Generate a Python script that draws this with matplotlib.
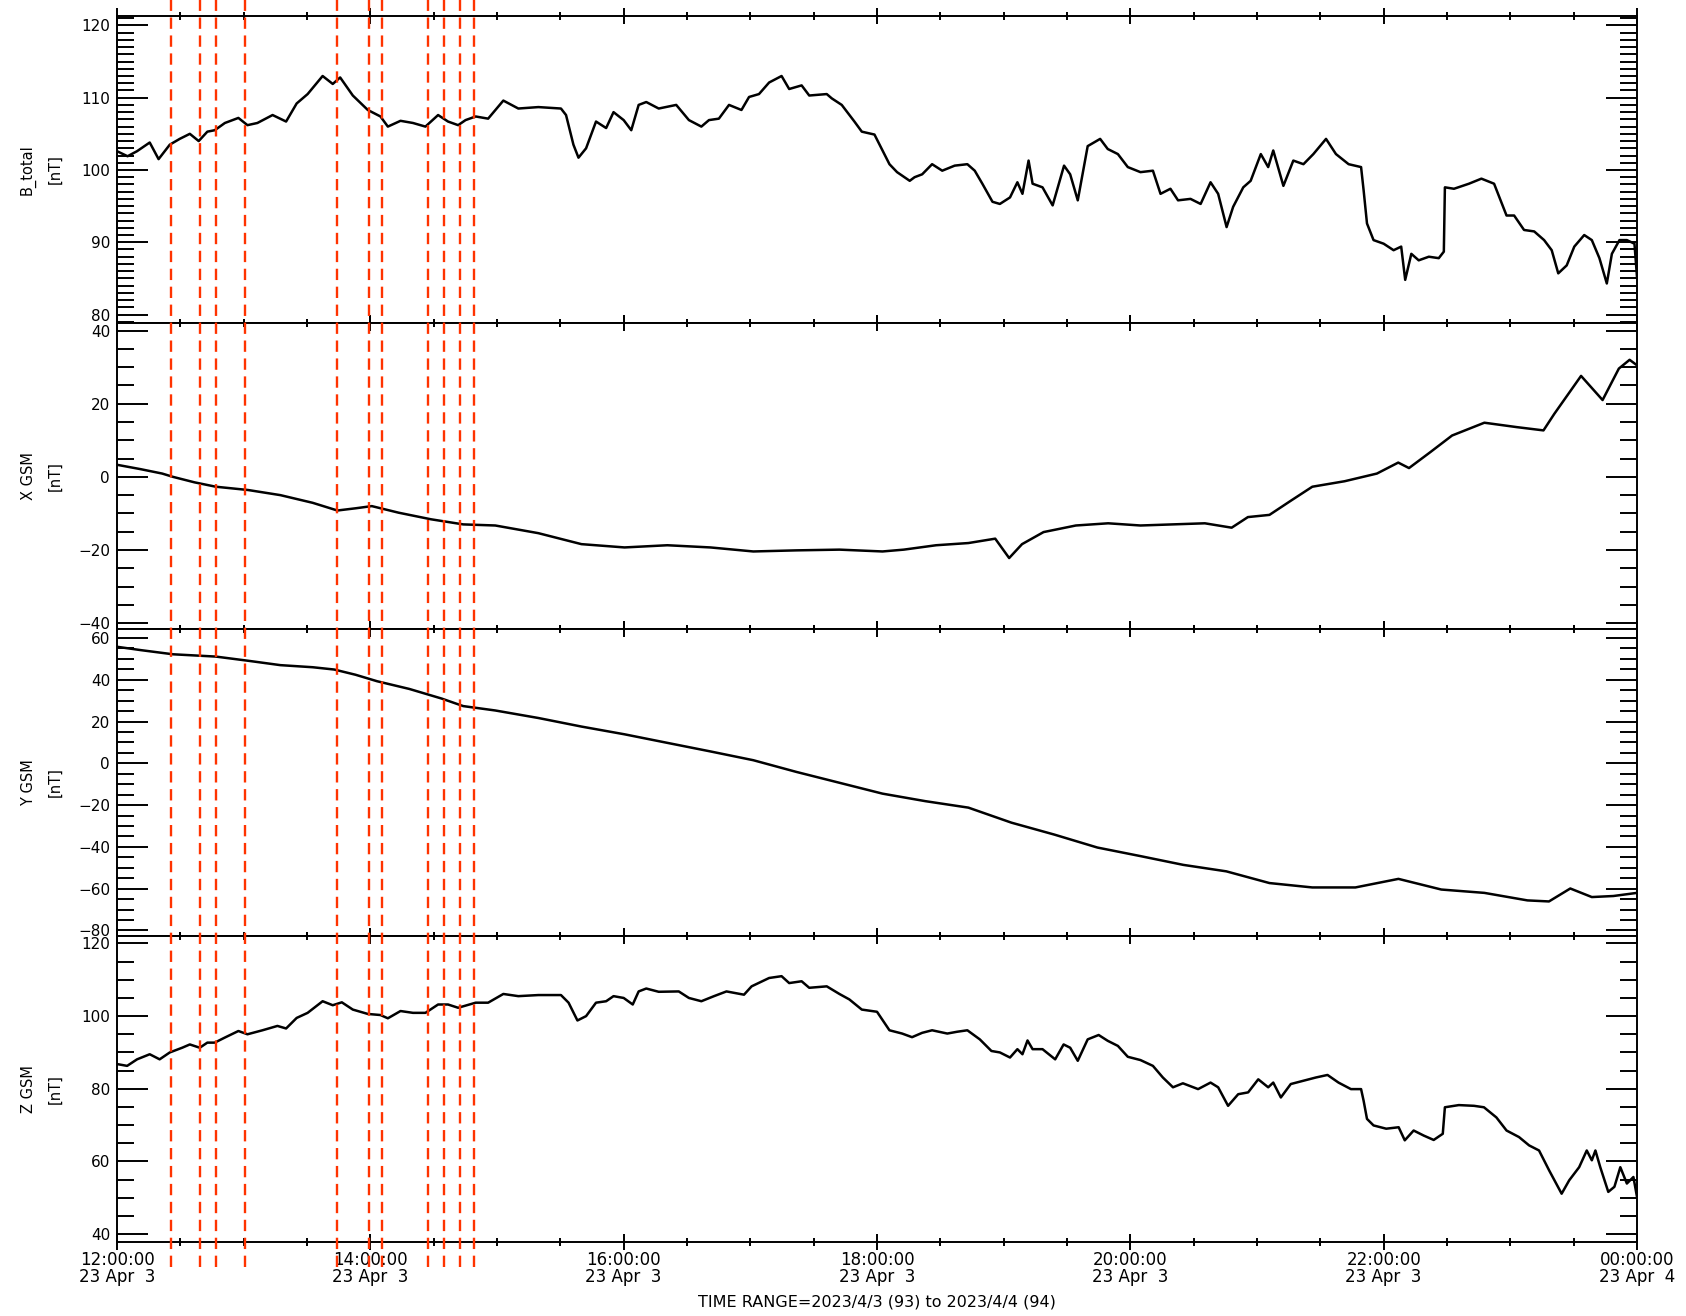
import matplotlib
matplotlib.use('Agg')
import numpy as np
import matplotlib.pyplot as plt
from matplotlib.ticker import MultipleLocator, FuncFormatter

# times are minutes after 2023-04-03 12:00:00 UT, values in nT
bt_min = [0, 5, 9.5, 15.5, 19.7, 25.0, 29.7, 34.5, 38.7, 42.8, 46.3, 51.1, 57.5, 61.8, 66.5, 73.7,
          80.1, 85.1, 90.3, 97.4, 102.2, 105.7, 111.7, 118.8, 124.8, 128.3, 134.3, 140.2, 146.1,
          152.1, 156.8, 161.6, 165.1, 169.9, 175.8, 183.0, 190.1, 199.6, 210.3, 212.7, 216.2,
          218.6, 222.2, 226.9, 231.7, 235.2, 240.0, 243.6, 247.1, 250.7, 256.6, 264.9, 270.9,
          276.8, 280.4, 285.1, 289.9, 295.8, 299.4, 304.1, 308.9, 314.8, 318.4, 324.3, 327.9,
          336.2, 338.6, 343.3, 349.3, 352.8, 358.8, 365.9, 369.5, 375.5, 377.8, 381.4, 386.1,
          390.9, 396.8, 402.8, 406.3, 409.9, 414.7, 418.2, 423.0, 426.5, 428.9, 431.8, 433.7,
          438.4, 443.2, 448.6, 451.5, 455.1, 459.8, 465.7, 469.3, 474.1, 478.8, 484.8, 490.7,
          494.3, 499.0, 502.6, 508.5, 513.3, 518.0, 521.6, 525.6, 528.7, 533.5, 537.0, 541.8,
          545.3, 547.7, 552.5, 557.2, 562.0, 566.7, 572.7, 577.4, 583.4, 589.3, 590.5, 592.1,
          595.2, 600.0, 604.7, 608.3, 610.2, 613.1, 616.6, 621.4, 626.1, 628.5, 629.0, 633.3,
          640.4, 646.3, 652.3, 658.2, 661.8, 666.5, 671.3, 676.0, 679.6, 682.7, 686.7, 690.3,
          695.0, 698.6, 702.2, 705.7, 708.1, 711.7, 715.2, 718.8, 720]
bt_val = [102.6, 101.9, 102.6, 103.8, 101.5, 103.5, 104.3, 105.0, 104.0, 105.3, 105.5, 106.5, 107.2,
          106.2, 106.5, 107.6, 106.7, 109.2, 110.5, 113.0, 111.9, 112.8, 110.3, 108.3, 107.4, 106.0,
          106.8, 106.5, 106.0, 107.6, 106.7, 106.2, 106.9, 107.4, 107.1, 109.6, 108.5, 108.7, 108.5,
          107.6, 103.5, 101.7, 103.0, 106.7, 105.8, 108.0, 106.9, 105.5, 109.0, 109.4, 108.5, 109.0,
          106.9, 106.0, 106.9, 107.1, 109.0, 108.3, 110.1, 110.5, 112.1, 113.0, 111.2, 111.7, 110.3,
          110.5, 109.9, 109.0, 106.7, 105.3, 104.9, 100.8, 99.7, 98.5, 99.0, 99.4, 100.8, 99.9,
          100.6, 100.8, 99.9, 98.1, 95.6, 95.3, 96.2, 98.3, 96.7, 101.3, 98.1, 97.6, 95.1, 100.6,
          99.4, 95.8, 103.3, 104.3, 102.9, 102.2, 100.4, 99.7, 99.9, 96.7, 97.4, 95.8, 96.0, 95.3,
          98.3, 96.7, 92.1, 94.9, 97.6, 98.5, 102.2, 100.4, 102.7, 97.8, 101.3, 100.8, 102.2,
          104.3, 102.2, 100.8, 100.4, 97.2, 92.6, 90.3, 89.8, 88.9, 89.4, 84.8, 88.4, 87.5, 88.0,
          87.8, 88.7, 97.6, 97.4, 98.1, 98.8, 98.1, 93.7, 93.7, 91.7, 91.5, 90.3, 88.9, 85.7,
          86.8, 89.4, 91.0, 90.3, 87.8, 84.3, 88.4, 90.3, 90.3, 89.8, 85.2]

bx_min = [0, 11.2, 21.4, 26.5, 36.7, 46.8, 62.1, 77.4, 92.7, 104.4, 113.0, 120.7, 133.4, 148.7,
          164.0, 179.2, 199.6, 220.0, 240.4, 260.7, 281.1, 301.4, 321.8, 342.2, 362.6, 372.7,
          388.0, 403.3, 416.0, 422.6, 428.7, 438.9, 454.2, 469.5, 484.8, 500.0, 515.3, 528.0,
          535.7, 545.9, 556.1, 566.2, 581.5, 596.8, 606.9, 612.0, 622.2, 632.4, 647.7, 663.0,
          675.7, 680.8, 693.5, 703.7, 711.4, 716.5, 720]
bx_val = [3.3, 2.1, 0.9, 0.0, -1.5, -2.7, -3.6, -5.0, -7.1, -9.2, -8.6, -8.0, -9.8, -11.6, -13.0,
          -13.3, -15.4, -18.4, -19.3, -18.7, -19.3, -20.4, -20.1, -19.9, -20.4, -19.9, -18.7, -18.1,
          -16.9, -22.2, -18.4, -15.1, -13.3, -12.7, -13.3, -13.0, -12.7, -13.9, -11.0, -10.4, -6.5,
          -2.7, -1.2, 0.9, 3.9, 2.4, 6.8, 11.3, 14.8, 13.6, 12.7, 17.2, 27.6, 21.0, 29.6, 32.0, 30.5]

by_min = [0, 11.2, 26.5, 46.8, 62.1, 77.4, 92.7, 102.9, 113.0, 123.2, 138.5, 153.8, 164.0, 179.2,
          199.6, 220.0, 240.4, 260.7, 281.1, 301.4, 321.8, 342.2, 362.6, 382.9, 403.3, 423.7,
          444.0, 464.4, 484.8, 505.1, 525.5, 545.9, 566.2, 586.6, 607.0, 627.3, 647.7, 668.1,
          678.3, 688.4, 698.6, 708.8, 720]
by_val = [55.8, 54.2, 52.2, 51.1, 49.1, 47.0, 46.0, 44.9, 42.4, 39.3, 35.6, 31.0, 27.4, 25.3, 21.7,
          17.6, 13.9, 9.8, 5.7, 1.5, -4.1, -9.3, -14.5, -18.1, -21.2, -28.4, -34.1, -40.3, -44.4,
          -48.6, -51.7, -57.3, -59.4, -59.4, -55.3, -60.4, -62.0, -65.6, -66.1, -59.9, -64.0,
          -63.5, -62.0]

bz_min = [0, 4.8, 9.5, 15.5, 20.2, 25.0, 30.9, 34.5, 39.2, 42.8, 46.3, 51.1, 57.5, 61.8, 68.9, 76.0,
          80.1, 85.1, 90.3, 97.4, 102.2, 106.5, 111.7, 118.8, 124.8, 128.3, 134.3, 140.2, 146.1,
          152.1, 156.8, 161.6, 169.9, 175.8, 183.0, 190.1, 199.6, 210.3, 213.9, 218.1, 222.2,
          226.9, 231.7, 235.2, 240.0, 244.3, 247.1, 250.7, 256.6, 266.1, 270.9, 276.8, 282.8,
          288.7, 297.0, 300.6, 308.9, 314.8, 318.4, 324.3, 327.9, 336.2, 342.2, 346.9, 352.8,
          360.0, 365.9, 371.9, 376.6, 381.4, 386.1, 393.3, 398.0, 402.8, 408.7, 414.2, 418.2,
          423.0, 426.5, 428.9, 431.3, 433.7, 438.4, 444.4, 448.4, 451.5, 455.1, 459.8, 465.0,
          469.3, 474.1, 478.8, 484.8, 490.7, 495.4, 500.2, 504.9, 512.1, 518.0, 521.6, 526.3,
          531.1, 535.8, 540.6, 545.3, 547.7, 551.3, 556.0, 562.0, 567.9, 573.4, 578.6, 584.5,
          589.3, 590.5, 592.1, 595.2, 601.2, 607.1, 610.0, 614.2, 619.0, 623.7, 628.0, 629.0,
          635.6, 642.8, 647.5, 653.4, 658.2, 664.1, 668.9, 673.6, 678.4, 684.3, 687.9, 692.6,
          696.2, 698.6, 700.3, 702.6, 706.4, 709.3, 712.1, 715.2, 718.3, 720]
bz_val = [86.8, 86.3, 88.1, 89.5, 88.1, 90.0, 91.3, 92.2, 91.3, 92.7, 92.7, 94.1, 95.9, 95.0, 96.1,
          97.3, 96.6, 99.5, 100.9, 104.1, 103.0, 103.8, 101.8, 100.6, 100.3, 99.4, 101.4, 100.9,
          100.9, 103.2, 103.2, 102.3, 103.7, 103.7, 106.1, 105.5, 105.8, 105.8, 103.7, 98.8, 100.0,
          103.7, 104.1, 105.5, 105.0, 103.2, 106.8, 107.6, 106.7, 106.8, 105.0, 104.1, 105.5,
          106.8, 105.9, 108.2, 110.5, 111.0, 109.1, 109.6, 107.8, 108.2, 106.1, 104.6, 101.8,
          101.2, 96.1, 95.2, 94.2, 95.4, 96.1, 95.2, 95.7, 96.1, 93.6, 90.4, 90.0, 88.6, 90.9,
          89.5, 93.3, 90.9, 90.9, 88.1, 92.2, 91.3, 87.7, 93.6, 94.8, 93.2, 91.8, 88.8, 87.9,
          86.3, 83.1, 80.4, 81.5, 79.9, 81.7, 80.4, 75.3, 78.5, 79.0, 82.6, 80.4, 81.7, 77.6,
          81.3, 82.2, 83.1, 83.8, 81.7, 79.9, 79.9, 76.7, 71.7, 69.9, 69.0, 69.4, 65.8, 68.5,
          67.1, 65.9, 67.6, 74.9, 75.5, 75.3, 74.9, 72.1, 68.5, 66.7, 64.4, 63.0, 57.5, 51.1,
          54.8, 58.4, 63.0, 60.3, 63.0, 58.4, 51.6, 53.0, 58.4, 53.9, 55.7, 50.2]

# time bars (minutes after 12:00)
bar_min = [25.4, 39.4, 47.0, 60.8, 104.1, 119.2, 125.6, 147.1, 154.7, 162.5, 168.9]

panels = [
    (bt_min, bt_val, 'B_total\n[nT]', (78.9, 121.3), 10, 1),
    (bx_min, bx_val, 'X GSM\n[nT]', (-41.6, 42.2), 20, 5),
    (by_min, by_val, 'Y GSM\n[nT]', (-82.4, 64.3), 20, 5),
    (bz_min, bz_val, 'Z GSM\n[nT]', (37.8, 122.2), 20, 5),
]

W, H = 1686, 1316
fig = plt.figure(figsize=(W / 100, H / 100), dpi=100)
left, right = 117, 1637
tops = [16, 322.5, 629, 935.5]
ph = 306.5


def tfmt(x, pos):
    h = int(round(x))
    day = 3 if h < 24 else 4
    return f"{h % 24:02d}:00:00\n23 Apr  {day}"


axes = []
for i, (tm, val, lab, ylim, maj, mnr) in enumerate(panels):
    ax = fig.add_axes([left / W, 1 - (tops[i] + ph) / H, (right - left) / W, ph / H])
    ax.plot(12 + np.array(tm) / 60.0, val, color='black', lw=1.8)
    ax.set_xlim(12, 24)
    ax.set_ylim(*ylim)
    ax.xaxis.set_major_locator(MultipleLocator(2))
    ax.xaxis.set_minor_locator(MultipleLocator(0.5))
    ax.yaxis.set_major_locator(MultipleLocator(maj))
    ax.yaxis.set_minor_locator(MultipleLocator(mnr))
    for s in ax.spines.values():
        s.set_linewidth(1.4)
    ax.tick_params(axis='y', which='both', direction='in', left=True, right=True,
                   labelsize=11, pad=5)
    ax.tick_params(axis='y', which='major', length=22, width=1.4)
    ax.tick_params(axis='y', which='minor', length=12, width=1.4)
    ax.tick_params(axis='x', which='both', direction='inout', top=True, bottom=True,
                   labelsize=12, pad=1)
    ax.tick_params(axis='x', which='major', length=11, width=1.4)
    ax.tick_params(axis='x', which='minor', length=6, width=1.4)
    ax.set_ylabel(lab, fontsize=10.5, linespacing=2.0)
    ax.yaxis.set_label_coords((63 - left) / (right - left), 0.5)
    if i < 3:
        ax.tick_params(axis='x', labelbottom=False)
    else:
        ax.xaxis.set_major_formatter(FuncFormatter(tfmt))
        for t in ax.get_xticklabels():
            t.set_linespacing(0.9)
    axes.append(ax)

# dashed time bars drawn across all panels
bot = 1267
over = fig.add_axes([left / W, 1 - bot / H, (right - left) / W, bot / H])
over.set_xlim(12, 24)
over.set_ylim(0, 1)
over.axis('off')
over.patch.set_alpha(0)
for b in bar_min:
    over.axvline(12 + b / 60.0, color='#ff3300', lw=1.7, dashes=(4.8, 2.8))

fig.text((left + right) / 2 / W, 1 - 1302 / H, 'TIME RANGE=2023/4/3 (93) to 2023/4/4 (94)',
         ha='center', va='center', fontsize=11.5)

fig.savefig('out.png', dpi=100)
